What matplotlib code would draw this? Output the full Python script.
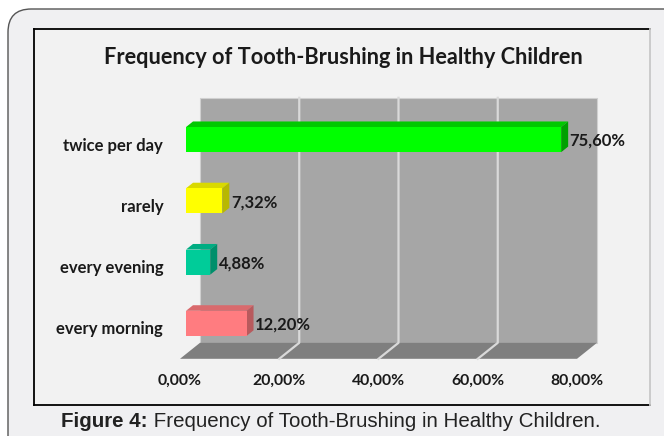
import matplotlib.pyplot as plt
from matplotlib.patches import Polygon, Rectangle, FancyBboxPatch

# data
categories = ['every morning', 'every evening', 'rarely', 'twice per day']
values = [12.20, 4.88, 7.32, 75.60]
front_colors = ['#ff7c80', '#00cc99', '#ffff00', '#00ff00']
top_colors = ['#d96a6d', '#00ad82', '#d9d900', '#00c800']
side_colors = ['#b85a5d', '#008f6b', '#b8b800', '#00a000']
xticks = [0, 20, 40, 60, 80]
xtick_labels = ['0,00%', '20,00%', '40,00%', '60,00%', '80,00%']

W, H = 664, 436
fig = plt.figure(figsize=(W / 100, H / 100), dpi=100)
fig.patch.set_facecolor('white')

# outer rounded frame and the chart box
frame = FancyBboxPatch((8 / W, -0.2), 1.2, (H - 9) / H + 0.2,
                       boxstyle='round,pad=0,rounding_size=0.035',
                       transform=fig.transFigure, facecolor='#f0f0f2',
                       edgecolor='#555555', linewidth=1.0, mutation_aspect=W / H,
                       zorder=-3)
fig.patches.append(frame)
box = Rectangle((34 / W, (H - 405) / H), 616 / W, 376 / H, transform=fig.transFigure,
                facecolor='#f2f2f2', edgecolor='none', zorder=-2)
fig.patches.append(box)
for xs, ys, c in [([34, 34], [29, 405], 'black'), ([34, 650], [29, 29], 'black'),
                  ([34, 650], [405, 405], 'black'), ([650, 650], [29, 405], '#c8c8c8')]:
    fig.add_artist(plt.Line2D([x / W for x in xs], [1 - y / H for y in ys],
                              color=c, linewidth=1.3, transform=fig.transFigure, zorder=-1))

# axes = plane of the bar fronts
ax = fig.add_axes([186 / W, (H - 354) / H, 397 / W, 245 / H])
ax.set_xlim(0, 80)
ax.set_ylim(-0.5, 3.5)
ax.axis('off')

DX = 20 / (397 / 80)      # full floor depth in x units
DY = 16 / (245 / 4)       # full floor depth in category units
D_FRONT, D_BACK, D_BAR = -0.3, 0.7, 0.35


def pt(x, y, d):
    return (x + d * DX, y + d * DY)


# back wall
wall = [pt(0, -0.5, D_BACK), pt(80, -0.5, D_BACK), pt(80, 3.5, D_BACK), pt(0, 3.5, D_BACK)]
ax.add_patch(Polygon(wall, closed=True, facecolor='#a6a6a6', edgecolor='#d0d0d0',
                     linewidth=0.8, clip_on=False, zorder=1))
# floor
floor = [pt(0, -0.5, D_FRONT), pt(80, -0.5, D_FRONT), pt(80, -0.5, D_BACK), pt(0, -0.5, D_BACK)]
ax.add_patch(Polygon(floor, closed=True, facecolor='#7f7f7f', edgecolor='none',
                     clip_on=False, zorder=1))
# gridlines
for t in xticks[1:-1]:
    p0, p1, p2 = pt(t, -0.5, D_FRONT), pt(t, -0.5, D_BACK), pt(t, 3.5, D_BACK)
    ax.plot([p0[0], p1[0], p2[0]], [p0[1], p1[1], p2[1]], color='#d9d9d9',
            linewidth=1.6, clip_on=False, zorder=2)

# bars
bh = 0.41
ypos = list(range(len(categories)))
ax.barh(ypos, values, height=bh, color=front_colors, zorder=5, clip_on=False)
for y, v, tc, sc in zip(ypos, values, top_colors, side_colors):
    top = [pt(0, y + bh / 2, 0), pt(v, y + bh / 2, 0), pt(v, y + bh / 2, D_BAR), pt(0, y + bh / 2, D_BAR)]
    side = [pt(v, y - bh / 2, 0), pt(v, y + bh / 2, 0), pt(v, y + bh / 2, D_BAR), pt(v, y - bh / 2, D_BAR)]
    ax.add_patch(Polygon(top, closed=True, facecolor=tc, edgecolor='none', zorder=4, clip_on=False))
    ax.add_patch(Polygon(side, closed=True, facecolor=sc, edgecolor='none', zorder=4, clip_on=False))
    lx, ly = pt(v, y, D_BAR)
    ax.text(lx + 0.3, y - 0.02, f'{v:.2f}%'.replace('.', ','), ha='left', va='center',
            fontsize=12, fontweight='bold', family='Lato', color='#1a1a1a', zorder=6)

# category labels
for y, name in zip(ypos, categories):
    lx, ly = pt(0, y, D_FRONT)
    ax.text(lx - 3.4, ly - 0.02, name, ha='right', va='center', fontsize=12,
            fontweight='bold', family='Lato', color='#1a1a1a')

# x tick labels
for t, lab in zip(xticks, xtick_labels):
    lx, ly = pt(t, -0.5, D_FRONT)
    ax.text(lx, ly - 0.36, lab, ha='center', va='center', fontsize=11.3,
            fontweight='bold', family='Lato', color='#1a1a1a')

# title
fig.text(343 / W, 1 - 58 / H, 'Frequency of Tooth-Brushing in Healthy Children',
         ha='center', va='center', fontsize=15.7, fontweight='bold', family='Lato',
         color='#1a1a1a')

# caption
renderer = fig.canvas.get_renderer()
cap_y = 1 - 421 / H
t1 = fig.text(0, cap_y, 'Figure 4:', fontsize=14.8, fontweight='bold',
              family='Liberation Sans', va='center', color='#222222')
t2 = fig.text(0, cap_y, ' Frequency of Tooth-Brushing in Healthy Children.', fontsize=14.8,
              family='Liberation Sans', va='center', color='#222222')
w1 = t1.get_window_extent(renderer).width / W
w2 = t2.get_window_extent(renderer).width / W
x0 = 331 / W - (w1 + w2) / 2
t1.set_x(x0)
t2.set_x(x0 + w1)

fig.savefig('out.png', dpi=100, facecolor=fig.get_facecolor())
